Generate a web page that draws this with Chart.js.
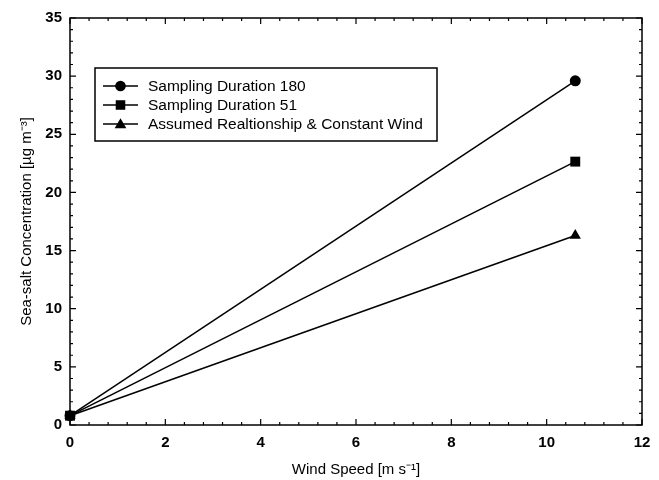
<!DOCTYPE html>
<html>
<head>
<meta charset="utf-8">
<script src="https://cdn.jsdelivr.net/npm/chart.js@4/dist/chart.umd.min.js"></script>
<style>
  html, body { margin: 0; padding: 0; background: #fff; }
  #wrap { width: 659px; height: 480px; }
</style>
</head>
<body>
<div id="wrap"><canvas id="c"></canvas></div>
<script>
// data
const windSpeed = [0, 10.6];
const duration180 = [0.8, 29.6];
const duration51 = [0.8, 22.65];
const assumed = [0.8, 16.3];
const seriesLabels = ["Sampling Duration 180", "Sampling Duration 51", "Assumed Realtionship & Constant Wind"];
const markers = ["circle", "rect", "triangle"];

const FONT = "'Liberation Sans', Arial, Helvetica, sans-serif";

function toPoints(ys) {
  return windSpeed.map((x, i) => ({ x: x, y: ys[i] }));
}

function mark(ctx, style, x, y, r) {
  ctx.beginPath();
  if (style === "circle") {
    ctx.arc(x, y, r, 0, Math.PI * 2);
  } else if (style === "rect") {
    ctx.rect(x - r * 0.9, y - r * 0.9, r * 1.8, r * 1.8);
  } else {
    ctx.moveTo(x, y - r * 1.1);
    ctx.lineTo(x + r * 1.1, y + r * 0.8);
    ctx.lineTo(x - r * 1.1, y + r * 0.8);
    ctx.closePath();
  }
  ctx.fill();
}

// -----------------------------
// frame + inward ticks on all sides, legend inside the plot
// -----------------------------
const framePlugin = {
  id: "frame",
  beforeDatasetsDraw(chart) {
    const { ctx, chartArea: a, scales } = chart;
    ctx.save();
    ctx.strokeStyle = "#000";
    ctx.lineWidth = 1.5;
    ctx.strokeRect(a.left, a.top, a.right - a.left, a.bottom - a.top);
    ctx.lineWidth = 1.2;
    ctx.beginPath();
    for (let v = 0; v <= 12.001; v += 0.4) {
      const major = Math.abs(v / 2 - Math.round(v / 2)) < 0.01;
      const len = major ? 6 : 3;
      const px = scales.x.getPixelForValue(v);
      ctx.moveTo(px, a.bottom); ctx.lineTo(px, a.bottom - len);
      ctx.moveTo(px, a.top); ctx.lineTo(px, a.top + len);
    }
    for (let v = 0; v <= 35; v += 1) {
      const len = v % 5 === 0 ? 6 : 3;
      const py = scales.y.getPixelForValue(v);
      ctx.moveTo(a.left, py); ctx.lineTo(a.left + len, py);
      ctx.moveTo(a.right, py); ctx.lineTo(a.right - len, py);
    }
    ctx.stroke();
    ctx.restore();
  },
  afterDraw(chart) {
    const { ctx } = chart;
    const bx = 95, by = 68, bw = 342, bh = 73;
    ctx.save();
    ctx.fillStyle = "#fff";
    ctx.fillRect(bx, by, bw, bh);
    ctx.strokeStyle = "#000";
    ctx.lineWidth = 1.5;
    ctx.strokeRect(bx, by, bw, bh);
    ctx.font = "15.5px " + FONT;
    ctx.textBaseline = "middle";
    chart.data.datasets.forEach((ds, i) => {
      const y = 86 + i * 19;
      ctx.lineWidth = 1.5;
      ctx.beginPath();
      ctx.moveTo(103, y); ctx.lineTo(138, y);
      ctx.stroke();
      ctx.fillStyle = "#000";
      mark(ctx, markers[i], 120.5, y, 5.3);
      ctx.fillText(ds.label, 148, y + 1);
    });
    ctx.restore();
  }
};

function dataset(i, ys) {
  const radius = { circle: 5.5, rect: 7, triangle: 6.5 };
  return {
    label: seriesLabels[i],
    data: toPoints(ys),
    borderColor: "#000",
    backgroundColor: "#000",
    borderWidth: 1.5,
    pointStyle: markers[i],
    pointRadius: radius[markers[i]],
    pointBorderWidth: 0,
    clip: false
  };
}

new Chart(document.getElementById("c"), {
  type: "line",
  data: {
    datasets: [
      dataset(0, duration180),
      dataset(1, duration51),
      dataset(2, assumed)
    ]
  },
  options: {
    responsive: true,
    maintainAspectRatio: false,
    animation: false,
    layout: { padding: { top: 18, right: 17, left: 14, bottom: 0 } },
    plugins: {
      legend: { display: false },
      tooltip: { enabled: false }
    },
    scales: {
      x: {
        type: "linear",
        min: 0, max: 12,
        ticks: { stepSize: 2, color: "#000", font: { family: FONT, size: 15, weight: "bold" }, padding: 1 },
        grid: { display: false },
        border: { display: false },
        title: { display: true, text: "Wind Speed [m s⁻¹]", color: "#000", font: { family: FONT, size: 15 }, padding: { top: 4, bottom: 1 } },
        afterFit(scale) { scale.height = 55; }
      },
      y: {
        min: 0, max: 35,
        ticks: { stepSize: 5, color: "#000", font: { family: FONT, size: 15, weight: "bold" }, padding: 0 },
        grid: { display: false },
        border: { display: false },
        title: { display: true, text: "Sea-salt Concentration [µg m⁻³]", color: "#000", font: { family: FONT, size: 15 }, padding: { bottom: 4 } },
        afterFit(scale) { scale.width = 56; }
      }
    }
  },
  plugins: [framePlugin]
});
</script>
</body>
</html>
